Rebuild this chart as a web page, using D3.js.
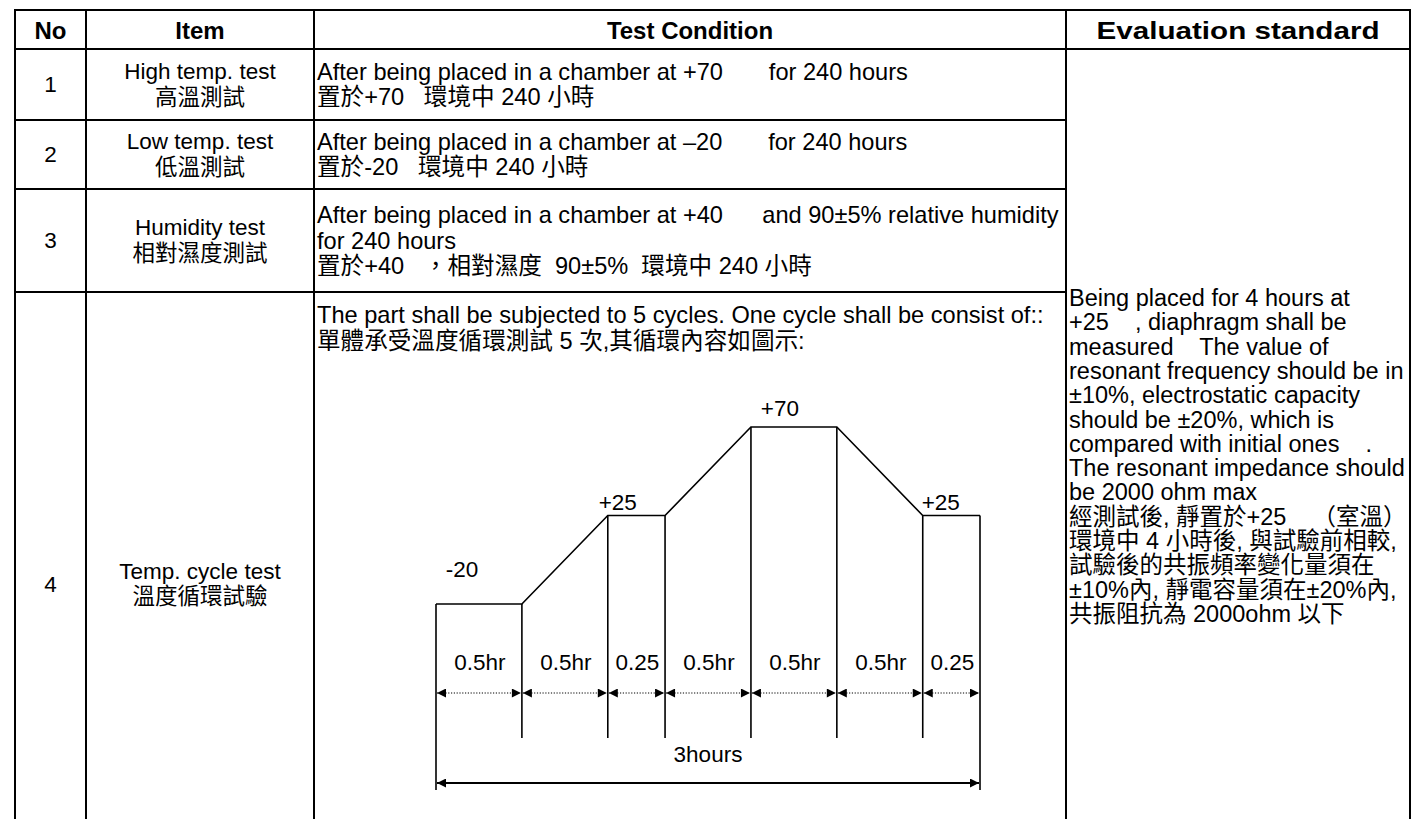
<!DOCTYPE html>
<html>
<head>
<meta charset="utf-8">
<script src="https://cdn.jsdelivr.net/npm/d3@7"></script>
<style>
  body { margin: 0; background: #fff; }
  svg text { font-family: "Liberation Sans", Arial, "Noto Sans CJK TC", sans-serif; fill: #000; white-space: pre; }
</style>
</head>
<body>
<div id="chart"></div>
<script>
// **** THE DATA ****

const headers = ["No", "Item", "Test Condition", "Evaluation standard"]
const rowNumbers = ["1", "2", "3", "4"]
const itemNames = ["High temp. test", "Low temp. test", "Humidity test", "Temp. cycle test"]
const itemNamesZh = ["高溫測試", "低溫測試", "相對濕度測試", "溫度循環試驗"]
const conditionText = [
  ["After being placed in a chamber at +70       for 240 hours", "置於+70   環境中 240 小時"],
  ["After being placed in a chamber at –20       for 240 hours", "置於-20   環境中 240 小時"],
  ["After being placed in a chamber at +40      and 90±5% relative humidity", "for 240 hours", "置於+40   ，相對濕度  90±5%  環境中 240 小時"],
  ["The part shall be subjected to 5 cycles. One cycle shall be consist of::", "單體承受溫度循環測試 5 次,其循環內容如圖示:"]
]
const evaluationText = [
  "Being placed for 4 hours at",
  "+25    , diaphragm shall be",
  "measured    The value of",
  "resonant frequency should be in",
  "±10%, electrostatic capacity",
  "should be ±20%, which is",
  "compared with initial ones    .",
  "The resonant impedance should",
  "be 2000 ohm max",
  "經測試後, 靜置於+25    （室溫）",
  "環境中 4 小時後, 與試驗前相較,",
  "試驗後的共振頻率變化量須在",
  "±10%內, 靜電容量須在±20%內,",
  "共振阻抗為 2000ohm 以下"
]

// temperature cycle: one entry per segment, temps at each breakpoint
const cycleHours = [0.5, 0.5, 0.25, 0.5, 0.5, 0.5, 0.25]
const cycleLabels = ["0.5hr", "0.5hr", "0.25", "0.5hr", "0.5hr", "0.5hr", "0.25"]
const cycleTemps = [-20, -20, 25, 25, 70, 70, 25, 25]
const tempLabels = ["-20", "+25", "+70", "+25"]
const totalLabel = "3hours"

// **** THE SETUP ****

const width = 1423
const height = 819
const colX = [15, 86, 314, 1066, 1410]
const rowY = [10, 49, 120, 189, 292, 876]
const lineGap = 25.5

const svg = d3.select("#chart").append("svg")
    .attr("width", width)
    .attr("height", height)

// --> TABLE GRID

const grid = svg.append("g")
    .attr("stroke", "#000")
    .attr("stroke-width", 2)

colX.forEach(x => {
  grid.append("line").attr("x1", x).attr("x2", x).attr("y1", rowY[0] - 1).attr("y2", height + 5)
})
grid.append("line").attr("x1", colX[0] - 1).attr("x2", colX[4] + 1).attr("y1", rowY[0]).attr("y2", rowY[0])
grid.append("line").attr("x1", colX[0] - 1).attr("x2", colX[4] + 1).attr("y1", rowY[1]).attr("y2", rowY[1])
rowY.slice(2, 5).forEach(y => {
  grid.append("line").attr("x1", colX[0]).attr("x2", colX[3]).attr("y1", y).attr("y2", y)
})

// --> HEADER

// the last heading is spread wider than its natural width in the original
const headWidth = [null, null, null, 283]
svg.selectAll(".head")
    .data(headers)
  .enter().append("text")
    .attr("class", "head")
    .attr("x", (d, i) => (colX[i] + colX[i + 1]) / 2)
    .attr("y", (rowY[0] + rowY[1]) / 2 + 1)
    .attr("text-anchor", "middle")
    .attr("dominant-baseline", "central")
    .attr("font-size", 24)
    .attr("font-weight", "bold")
    .attr("textLength", (d, i) => headWidth[i])
    .attr("lengthAdjust", (d, i) => headWidth[i] ? "spacingAndGlyphs" : null)
    .text(d => d)

// --> ROWS

const rowMid = i => (rowY[i + 1] + rowY[i + 2]) / 2

svg.selectAll(".no")
    .data(rowNumbers)
  .enter().append("text")
    .attr("x", (colX[0] + colX[1]) / 2)
    .attr("y", (d, i) => rowMid(i))
    .attr("text-anchor", "middle")
    .attr("dominant-baseline", "central")
    .attr("font-size", 22.5)
    .text(d => d)

itemNames.forEach((name, i) => {
  const cx = (colX[1] + colX[2]) / 2
  svg.append("text").attr("x", cx).attr("y", rowMid(i) - lineGap / 2)
      .attr("text-anchor", "middle").attr("dominant-baseline", "central")
      .attr("font-size", 22.5).text(name)
  svg.append("text").attr("x", cx).attr("y", rowMid(i) + lineGap / 2)
      .attr("text-anchor", "middle").attr("dominant-baseline", "central")
      .attr("font-size", 22.5).text(itemNamesZh[i])
})

conditionText.forEach((lines, i) => {
  // last row is top aligned, others centred
  const y0 = i < 3 ? rowMid(i) - (lines.length - 1) * lineGap / 2 : rowY[i + 1] + 23
  svg.selectAll(".cond" + i)
      .data(lines)
    .enter().append("text")
      .attr("x", colX[2] + 3)
      .attr("y", (d, j) => y0 + j * lineGap)
      .attr("dominant-baseline", "central")
      .attr("font-size", 23.6)
      .text(d => d)
})

svg.selectAll(".eval")
    .data(evaluationText)
  .enter().append("text")
    .attr("x", colX[3] + 3)
    .attr("y", (d, i) => 298 + i * 24.3)
    .attr("dominant-baseline", "central")
    .attr("font-size", 23.5)
    .text(d => d)

// --> TEMPERATURE CYCLE DIAGRAM

// the drawing gives the quarter-hour holds more room than a linear time axis,
// so segment widths follow a power scale of their durations
const segScale = d3.scalePow().exponent(Math.log2(1.5)).domain([0, 0.5]).range([0, 1])
const breaks = [0]
cycleHours.forEach(h => breaks.push(breaks[breaks.length - 1] + segScale(h)))

const xScale = d3.scaleLinear()
    .domain([0, breaks[breaks.length - 1]])
    .range([436, 980])

const yScale = d3.scaleLinear()
    .domain([-20, 70])
    .range([604, 427])

const line = d3.line()
    .x((d, i) => xScale(breaks[i]))
    .y(d => yScale(d))

const diagram = svg.append("g")

const defs = svg.append("defs")
defs.append("marker")
    .attr("id", "arrow")
    .attr("viewBox", "0 0 10 10")
    .attr("refX", 10).attr("refY", 5)
    .attr("markerWidth", 10).attr("markerHeight", 9)
    .attr("markerUnits", "userSpaceOnUse")
    .attr("orient", "auto-start-reverse")
  .append("path")
    .attr("d", "M0,0L10,5L0,10Z")
    .attr("fill", "#000")

diagram.append("path")
    .datum(cycleTemps)
    .attr("d", line)
    .attr("fill", "none")
    .attr("stroke", "#000")
    .attr("stroke-width", 1.6)

// verticals from each breakpoint down
const dimY = 693
const totalY = 783
breaks.forEach((b, i) => {
  const outer = i === 0 || i === breaks.length - 1
  diagram.append("line")
      .attr("x1", xScale(b)).attr("x2", xScale(b))
      .attr("y1", yScale(cycleTemps[i]))
      .attr("y2", outer ? totalY + 7 : 738)
      .attr("stroke", "#000")
      .attr("stroke-width", 1.6)
})

// dotted duration arrows
cycleHours.forEach((h, i) => {
  diagram.append("line")
      .attr("x1", xScale(breaks[i]) + 1).attr("x2", xScale(breaks[i + 1]) - 1)
      .attr("y1", dimY).attr("y2", dimY)
      .attr("stroke", "#000")
      .attr("stroke-width", 1)
      .attr("stroke-dasharray", "1.2,1.6")
      .attr("marker-start", "url(#arrow)")
      .attr("marker-end", "url(#arrow)")
})

diagram.selectAll(".seg")
    .data(cycleLabels)
  .enter().append("text")
    .attr("x", (d, i) => (xScale(breaks[i]) + xScale(breaks[i + 1])) / 2 + 1)
    .attr("y", 662)
    .attr("text-anchor", "middle")
    .attr("dominant-baseline", "central")
    .attr("font-size", 22.5)
    .text(d => d)

// total arrow
diagram.append("line")
    .attr("x1", xScale(0) + 1).attr("x2", xScale(breaks[breaks.length - 1]) - 1)
    .attr("y1", totalY).attr("y2", totalY)
    .attr("stroke", "#000")
    .attr("stroke-width", 2)
    .attr("marker-start", "url(#arrow)")
    .attr("marker-end", "url(#arrow)")

diagram.append("text")
    .attr("x", (xScale(0) + xScale(breaks[breaks.length - 1])) / 2)
    .attr("y", 754)
    .attr("text-anchor", "middle")
    .attr("dominant-baseline", "central")
    .attr("font-size", 22.5)
    .text(totalLabel)

// temperature labels sit at the start of each hold segment
const holds = d3.range(cycleHours.length).filter(i => cycleTemps[i] === cycleTemps[i + 1])
const labelOffset = [[26, -35], [10, -13], [29, -19], [18, -13]]
diagram.selectAll(".temp")
    .data(tempLabels)
  .enter().append("text")
    .attr("x", (d, k) => xScale(breaks[holds[k]]) + labelOffset[k][0])
    .attr("y", (d, k) => yScale(cycleTemps[holds[k]]) + labelOffset[k][1])
    .attr("text-anchor", "middle")
    .attr("dominant-baseline", "central")
    .attr("font-size", 22.5)
    .text(d => d)
</script>
</body>
</html>
